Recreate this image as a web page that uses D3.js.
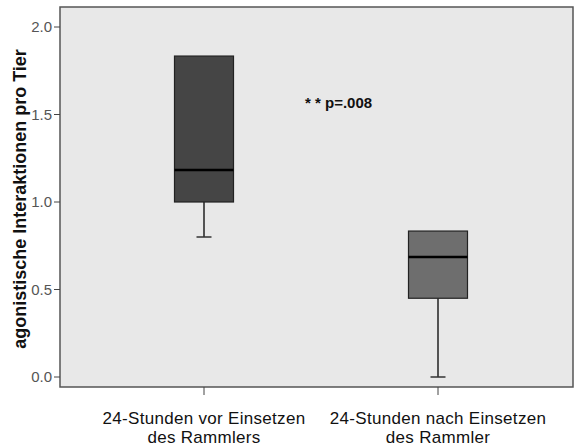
<!DOCTYPE html>
<html><head><meta charset="utf-8">
<script src="https://cdn.jsdelivr.net/npm/d3@7"></script>
<style>body{margin:0;background:#fff}svg{display:block}</style>
</head><body>
<svg id="c" width="574" height="446"></svg>
<script>
const categories = ["24-Stunden vor Einsetzen|des Rammlers", "24-Stunden nach Einsetzen|des Rammler"];
const q1 = [1.0, 0.45];
const median = [1.183, 0.686];
const q3 = [1.834, 0.834];
const whiskerLow = [0.8, 0.0];
const whiskerHigh = [1.834, 0.834];
const boxColors = ["#454545", "#6e6e6e"];
const yTicks = [0.0, 0.5, 1.0, 1.5, 2.0];
const yLabel = "agonistische Interaktionen pro Tier";
const annotation = "* * p=.008";

const svg = d3.select("#c");
const L = 60, R = 573, T = 7, B = 387;
const y = d3.scaleLinear().domain([0, 2]).range([377, 27]);
const xc = d3.scalePoint().domain(categories).range([204, 438]);
const FF = "Liberation Sans, Arial";

svg.append("rect").attr("x", L).attr("y", T).attr("width", R - L).attr("height", B - T)
  .attr("fill", "#e8e8e8").attr("stroke", "#555").attr("stroke-width", 1.5);

const ya = svg.append("g");
yTicks.forEach(v => {
  ya.append("line").attr("x1", L - 6).attr("x2", L).attr("y1", y(v)).attr("y2", y(v)).attr("stroke", "#444");
  ya.append("text").attr("x", L - 8).attr("y", y(v)).attr("dy", "0.36em").attr("text-anchor", "end")
    .attr("font-family", FF).attr("font-size", 15).attr("fill", "#555").text(d3.format(".1f")(v));
});

svg.append("text").attr("transform", `translate(26,199) rotate(-90)`)
  .attr("text-anchor", "middle").attr("font-family", FF).attr("font-weight", "bold")
  .attr("font-size", 18).attr("fill", "#111").text(yLabel);

categories.forEach((c, i) => {
  const cx = xc(c);
  svg.append("line").attr("x1", cx).attr("x2", cx).attr("y1", B).attr("y2", B + 8).attr("stroke", "#444");
  c.split("|").forEach((ln, j) => {
    svg.append("text").attr("x", cx).attr("y", 423.5 + j * 19.5).attr("text-anchor", "middle")
      .attr("font-family", FF).attr("font-size", 17).attr("letter-spacing", 0.3).attr("fill", "#111").text(ln);
  });
});

const bw = 59, cap = 15;
categories.forEach((c, i) => {
  const cx = xc(c);
  const g = svg.append("g");
  g.append("line").attr("x1", cx).attr("x2", cx).attr("y1", y(q1[i])).attr("y2", y(whiskerLow[i])).attr("stroke", "#222").attr("stroke-width", 1.5);
  g.append("line").attr("x1", cx - cap / 2).attr("x2", cx + cap / 2).attr("y1", y(whiskerLow[i])).attr("y2", y(whiskerLow[i])).attr("stroke", "#333").attr("stroke-width", 1.5);
  if (whiskerHigh[i] > q3[i]) {
    g.append("line").attr("x1", cx).attr("x2", cx).attr("y1", y(q3[i])).attr("y2", y(whiskerHigh[i])).attr("stroke", "#222").attr("stroke-width", 1.5);
  }
  g.append("rect").attr("x", cx - bw / 2).attr("y", y(q3[i])).attr("width", bw).attr("height", y(q1[i]) - y(q3[i]))
    .attr("fill", boxColors[i]).attr("stroke", "#222").attr("stroke-width", 1.2);
  g.append("line").attr("x1", cx - bw / 2).attr("x2", cx + bw / 2).attr("y1", y(median[i])).attr("y2", y(median[i])).attr("stroke", "#000").attr("stroke-width", 2.5);
});

svg.append("text").attr("x", 305).attr("y", 108).attr("font-family", FF).attr("font-weight", "bold")
  .attr("font-size", 15).attr("fill", "#111").text(annotation);
</script>
</body></html>
